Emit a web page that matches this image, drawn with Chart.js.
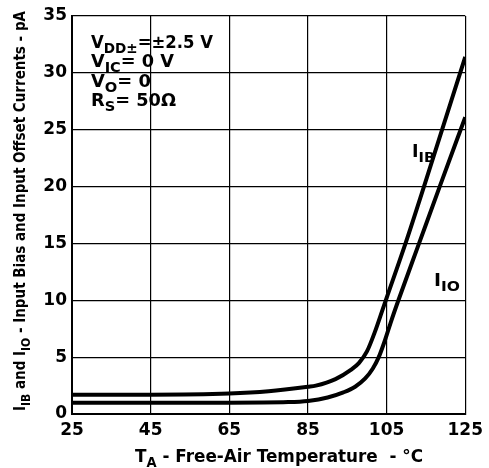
<!DOCTYPE html>
<html>
<head>
<meta charset="utf-8">
<script src="https://cdn.jsdelivr.net/npm/chart.js@4"></script>
<style>
  html, body { margin: 0; padding: 0; background: #fff; }
  #wrap { width: 489px; height: 468px; }
</style>
</head>
<body>
<div id="wrap"><canvas id="biasChart" width="489" height="468"></canvas></div>
<script>
// temperatures (°C) and currents (pA)
const tempIB = [25, 45, 65, 75, 85, 87, 92, 96, 98, 100, 102, 104, 105, 110, 114.5, 125];
const currIB = [1.7, 1.7, 1.8, 2.0, 2.4, 2.5, 3.07, 3.9, 4.5, 5.5, 7.2, 9.2, 10.2, 15.2, 20, 31.4];
const tempIO = [25, 45, 65, 80, 85, 90, 94, 97, 99.5, 101.5, 103, 104.5, 106, 108, 113.25, 118.5, 125];
const currIO = [1.0, 1.0, 1.0, 1.05, 1.15, 1.45, 1.9, 2.4, 3.1, 4.0, 5.0, 6.4, 8.0, 10, 15, 20, 26.1];
const xTicks = [25, 45, 65, 85, 105, 125];
const yTicks = [0, 5, 10, 15, 20, 25, 30, 35];

const FONT = '"DejaVu Sans", sans-serif';

function pairs(xs, ys) {
  return xs.map((x, i) => ({ x: x, y: ys[i] }));
}

// draws text made of normal and subscript pieces, optionally squeezed to a width
function richText(ctx, x, y, parts, size, fitWidth) {
  const subSize = Math.round(size * 0.8);
  let total = 0;
  parts.forEach(p => {
    ctx.font = 'bold ' + (p.sub ? subSize : size) + 'px ' + FONT;
    p.w = ctx.measureText(p.t).width;
    total += p.w;
  });
  const k = fitWidth ? fitWidth / total : 1;
  ctx.save();
  ctx.translate(x, y);
  ctx.scale(k, 1);
  let cx = 0;
  parts.forEach(p => {
    ctx.font = 'bold ' + (p.sub ? subSize : size) + 'px ' + FONT;
    ctx.fillText(p.t, cx, p.sub ? size * 0.3 : 0);
    cx += p.w;
  });
  ctx.restore();
}

const textPlugin = {
  id: 'textPlugin',
  afterDraw(chart) {
    const ctx = chart.ctx;
    ctx.save();
    ctx.fillStyle = '#000';
    ctx.textBaseline = 'alphabetic';
    ctx.textAlign = 'left';

    // test conditions
    richText(ctx, 91, 48, [{ t: 'V' }, { t: 'DD±', sub: true }, { t: '=±2.5 V' }], 17, 122);
    richText(ctx, 91, 67, [{ t: 'V' }, { t: 'IC', sub: true }, { t: '= 0 V' }], 17, 83);
    richText(ctx, 91, 87, [{ t: 'V' }, { t: 'O', sub: true }, { t: '= 0' }], 17, 60);
    richText(ctx, 91, 106, [{ t: 'R' }, { t: 'S', sub: true }, { t: '= 50Ω' }], 17, 85);

    // curve labels
    richText(ctx, 412, 157, [{ t: 'I' }, { t: 'IB', sub: true }], 17, 23);
    richText(ctx, 434, 286, [{ t: 'I' }, { t: 'IO', sub: true }], 17, 26);

    // x axis title
    richText(ctx, 135, 462, [{ t: 'T' }, { t: 'A', sub: true }, { t: ' - Free-Air Temperature  - °C' }], 18, 288);

    // y axis title
    ctx.save();
    ctx.translate(25, 411);
    ctx.rotate(-Math.PI / 2);
    richText(ctx, 0, 0, [
      { t: 'I' }, { t: 'IB', sub: true }, { t: ' and I' }, { t: 'IO', sub: true },
      { t: ' - Input Bias and Input Offset Currents - pA' }
    ], 15, 400);
    ctx.restore();

    ctx.restore();
  }
};

new Chart(document.getElementById('biasChart').getContext('2d'), {
  type: 'line',
  data: {
    datasets: [
      {
        label: 'IIB',
        data: pairs(tempIB, currIB),
        borderColor: '#000',
        borderWidth: 4,
        pointRadius: 0,
        cubicInterpolationMode: 'monotone'
      },
      {
        label: 'IIO',
        data: pairs(tempIO, currIO),
        borderColor: '#000',
        borderWidth: 4,
        pointRadius: 0,
        cubicInterpolationMode: 'monotone'
      }
    ]
  },
  options: {
    responsive: false,
    animation: false,
    layout: { padding: { left: 0, right: 17, top: 16, bottom: 0 } },
    plugins: {
      legend: { display: false },
      tooltip: { enabled: false }
    },
    scales: {
      x: {
        type: 'linear',
        min: 25,
        max: 125,
        afterBuildTicks: s => { s.ticks = xTicks.map(v => ({ value: v })); },
        afterFit: s => { s.height = 54; },
        grid: { color: '#000', lineWidth: 1.2, drawTicks: false },
        border: { color: '#000', width: 2 },
        ticks: { color: '#000', padding: 6, font: { family: FONT, size: 17, weight: 'bold' } }
      },
      y: {
        min: 0,
        max: 35,
        afterBuildTicks: s => { s.ticks = yTicks.map(v => ({ value: v })); },
        afterFit: s => { s.width = 72; },
        grid: { color: '#000', lineWidth: 1.2, drawTicks: false },
        border: { color: '#000', width: 2 },
        ticks: { color: '#000', padding: 5, font: { family: FONT, size: 17, weight: 'bold' } }
      }
    }
  },
  plugins: [textPlugin]
});
</script>
</body>
</html>
